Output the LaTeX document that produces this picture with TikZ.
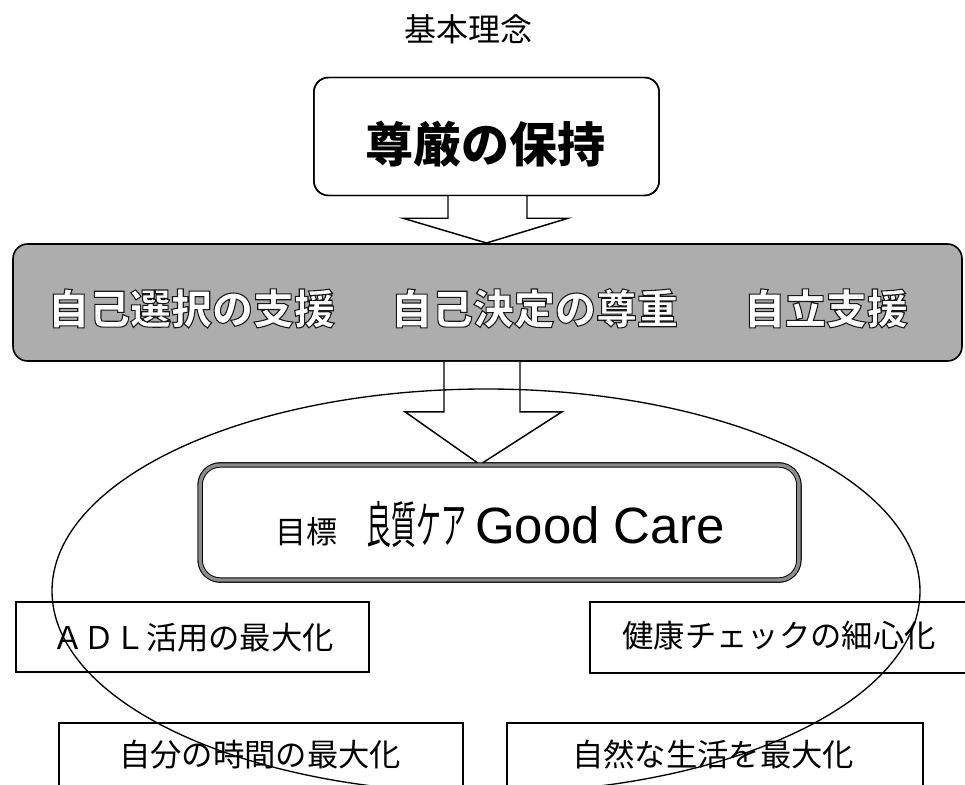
\documentclass[tikz,border=0pt]{standalone}
\usepackage{fontspec}
\setmainfont{Noto Sans CJK JP}
\newfontfamily\latinsans{Liberation Sans}
\newfontfamily\bannerfont{Noto Sans CJK JP}[FakeBold=2.6]
\usetikzlibrary{calc}
\newcommand\bannerline{自己選択の支援\hspace{42pt}自己決定の尊重\hspace{49.5pt}自立支援}
\newcommand\outlinedtext[1]{\special{pdf:bcolor [1 1 1] [0.1 0.1 0.1]}#1\special{pdf:ecolor}}
\tikzset{
  boxline/.style={draw=black, line width=1.1pt},
  topbox/.style={boxline, rounded corners=11pt, fill=white, minimum width=259pt, minimum height=88.5pt, inner sep=0pt},
  bannerbox/.style={draw=black, line width=1.2pt, rounded corners=11pt, fill=black!32, minimum width=711.75pt, minimum height=87.75pt, inner sep=0pt},
  goalbox/.style={draw=black, line width=0.7pt, double=black!45, double distance=2.6pt, rounded corners=15pt, fill=white, minimum width=449pt, minimum height=86.25pt, inner sep=0pt},
  itembox/.style={draw=black, line width=0.9pt, fill=white, inner sep=0pt},
  blockarrow/.style={draw=black, line width=1.1pt, fill=white, line join=miter},
  itemtext/.style={anchor=base, inner sep=0pt, font={\fontsize{23.5pt}{28pt}\selectfont}},
  bannertxt/.style={anchor=base, inner sep=0pt, font={\bannerfont\bfseries\fontsize{30.75pt}{36pt}\selectfont}},
}
\begin{document}
\begin{tikzpicture}[x=0.75pt,y=-0.75pt]
\useasboundingbox (0,0) rectangle (965,785);

% title
\node[anchor=base, inner sep=0pt, font={\fontsize{24pt}{28pt}\selectfont}] (title) at (468,41) {基本理念};

% nodes (boxes)
\node[topbox] (top) at (486.5,136.5) {};
\node[goalbox] (goal) at (499.5,522.5) {};

% arrow 1 (top box -> banner)
\coordinate (a1) at (top.south);
\draw[blockarrow] ($(a1)+(-38.5,0)$) -- ($(a1)+(-38.5,22)$) -- ($(a1)+(-83.5,22)$)
  -- (a1 |- 0,243) -- ($(a1)+(81.5,22)$) -- ($(a1)+(40.5,22)$) -- ($(a1)+(40.5,0)$);

% banner
\node[bannerbox] (banner) at (487.5,302.5) {};

% arrow 2 (banner -> goal box)
\coordinate (a2) at ($(banner.south)+(-5.5,0)$);
\draw[blockarrow] ($(a2)+(-38,0)$) -- ($(a2)+(-38,50)$) -- ($(a2)+(-77,50)$)
  -- ($(a2 |- goal.north)+(-2,0)$) -- ($(a2)+(80,50)$) -- ($(a2)+(38,50)$) -- ($(a2)+(38,0)$);

% redraw boxes touched by arrows
\node[topbox, fill=none] (topframe) at (top) {};
\node[goalbox] (goal2) at (goal) {};

% texts
\node[anchor=base, inner sep=0pt, font={\bfseries\fontsize{36pt}{40pt}\selectfont}] (toptext) at (485,162) {尊厳の保持};

\node[bannertxt] (bannertext) at (478,324) {\outlinedtext{\bannerline}};

\node[anchor=base, inner sep=0pt] (goaltext) at (500,543)
  {{\fontsize{23.25pt}{28pt}\selectfont 目標}\hspace{21.75pt}{\fontsize{37.5pt}{42pt}\selectfont\scalebox{0.5}[1]{良質ケア}}\hspace{6.4pt}{\latinsans\fontsize{38.25pt}{42pt}\selectfont Good Care}};

% item boxes
\node[itembox, minimum width=264.75pt, minimum height=52.5pt] (adl) at (192.5,637) {};
\node[itembox, minimum width=288.75pt, minimum height=53.25pt] (health) at (782.5,637.5) {};
\node[itembox, minimum width=303pt, minimum height=65.25pt] (mytime) at (261,766.5) {};
\node[itembox, minimum width=312pt, minimum height=65.25pt] (natural) at (715,766.5) {};

\node[itemtext] (adltext) at (193,649) {ＡＤＬ活用の最大化};
\node[itemtext] (healthtext) at (779,647) {健康チェックの細心化};
\node[itemtext] (mytimetext) at (260,766) {自分の時間の最大化};
\node[itemtext] (naturaltext) at (713,766) {自然な生活を最大化};

% ellipse on top
\draw[line width=1pt] (486,591) ellipse [x radius=434, y radius=202];
\end{tikzpicture}
\end{document}
